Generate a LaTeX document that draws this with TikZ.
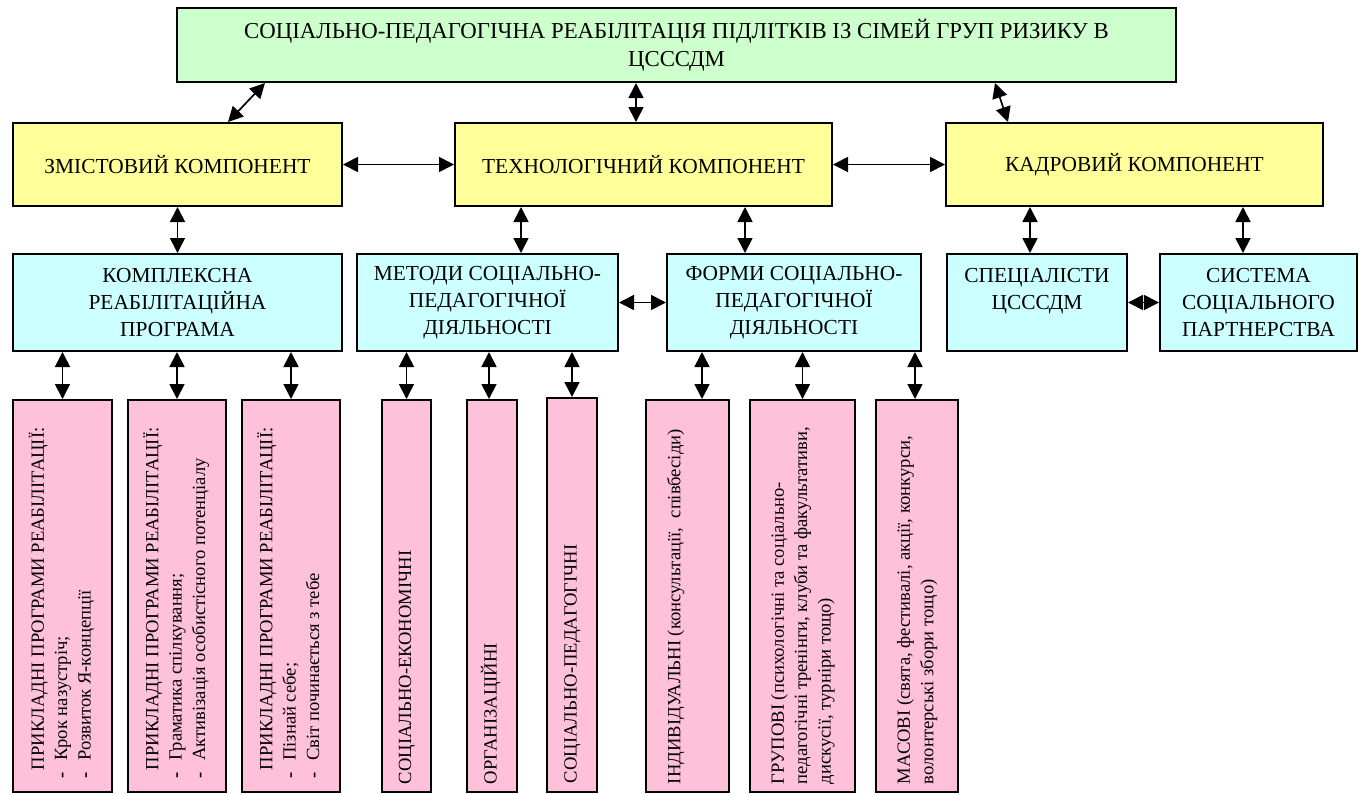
\documentclass[tikz,border=0pt]{standalone}
\usepackage{fontspec}
\setmainfont{Liberation Serif}
\usepackage{graphicx}
\usetikzlibrary{arrows.meta}

\definecolor{boxgreen}{RGB}{204,255,204}
\definecolor{boxyellow}{RGB}{255,255,153}
\definecolor{boxcyan}{RGB}{204,255,255}
\definecolor{boxpink}{RGB}{255,192,218}

% upright text in the narrow boxes
\newcommand\vtext[1]{\rotatebox{90}{\makebox[188pt][l]{\begin{tabular}{@{}l@{}}#1\end{tabular}}}}
\newcommand\itm{\hspace*{3pt}\textbf{-}\hspace*{5.5pt}}

\begin{document}
\begin{tikzpicture}[x=0.5pt,y=-0.5pt,
    box/.style={draw,line width=1pt,inner sep=0pt,align=center,
      font={\fontsize{10.7}{13.5}\selectfont}},
    topbox/.style={box,fill=boxgreen,minimum width=499.5pt,minimum height=37pt,
      font={\fontsize{11.4}{13.8}\selectfont}},
    compbox/.style={box,fill=boxyellow,minimum width=188.5pt,minimum height=41.5pt},
    midbox/.style={box,fill=boxcyan,minimum height=48.5pt},
    leafbox/.style={draw,line width=1pt,inner sep=0pt,fill=boxpink,minimum height=196pt,
      font={\fontsize{9.3}{11.7}\selectfont}},
    link/.style={line width=0.85pt,<->,>={Triangle[length=7.5pt,width=7.5pt]}}]
  \useasboundingbox (0,0) rectangle (1366,794);
  \draw
    (676.5,45) node[topbox] (top) {СОЦІАЛЬНО-ПЕДАГОГІЧНА РЕАБІЛІТАЦІЯ ПІДЛІТКІВ ІЗ СІМЕЙ ГРУП РИЗИКУ В\\ЦСССДМ}
    (177.5,164.5) node[compbox,minimum width=164.5pt] (zm) {ЗМІСТОВИЙ КОМПОНЕНТ}
    (643.5,164.5) node[compbox] (tech) {ТЕХНОЛОГІЧНИЙ КОМПОНЕНТ}
    (1134.5,164.5) node[compbox] (kadr) {КАДРОВИЙ КОМПОНЕНТ}
    (177.5,302.5) node[midbox,minimum width=164.5pt] (krp) {КОМПЛЕКСНА\\РЕАБІЛІТАЦІЙНА\\ПРОГРАМА}
    (487.5,302.5) node[midbox,minimum width=130.5pt] (meth) {МЕТОДИ СОЦІАЛЬНО-\\ПЕДАГОГІЧНОЇ\\ДІЯЛЬНОСТІ}
    (794,302.5) node[midbox,minimum width=127pt] (form) {ФОРМИ СОЦІАЛЬНО-\\ПЕДАГОГІЧНОЇ\\ДІЯЛЬНОСТІ}
    (1037,302.5) node[midbox,minimum width=90pt] (spec) {СПЕЦІАЛІСТИ\\ЦСССДМ\\\mbox{}}
    (1258.5,302.5) node[midbox,minimum width=98.5pt] (sys) {СИСТЕМА\\СОЦІАЛЬНОГО\\ПАРТНЕРСТВА};
  \draw
    (62.5,596) node[leafbox,minimum width=49.5pt] (p1) {\vtext{\hspace*{7pt}ПРИКЛАДНІ ПРОГРАМИ РЕАБІЛІТАЦІЇ:\\\itm Крок назустріч;\\\itm Розвиток Я-концепції}}
    (177,596) node[leafbox,minimum width=49pt] (p2) {\vtext{\hspace*{7pt}ПРИКЛАДНІ ПРОГРАМИ РЕАБІЛІТАЦІЇ:\\\itm Граматика спілкування;\\\itm Активізація особистісного потенціалу}}
    (291,596) node[leafbox,minimum width=49pt] (p3) {\vtext{\hspace*{7pt}ПРИКЛАДНІ ПРОГРАМИ РЕАБІЛІТАЦІЇ:\\\itm Пізнай себе;\\\itm Світ починається з тебе}}
    (406.5,596) node[leafbox,minimum width=24.5pt] (p4) {\vtext{СОЦІАЛЬНО-ЕКОНОМІЧНІ}}
    (492,596) node[leafbox,minimum width=25pt] (p5) {\vtext{ОРГАНІЗАЦІЙНІ}}
    (572,595) node[leafbox,minimum width=25pt,minimum height=197pt] (p6) {\vtext{СОЦІАЛЬНО-ПЕДАГОГІЧНІ}}
    (687.5,596) node[leafbox,minimum width=41.5pt] (p7) {\vtext{ІНДИВІДУАЛЬНІ (консультації,\ \ співбесіди)\\\mbox{}}}
    (802.5,596) node[leafbox,minimum width=52.5pt] (p8) {\vtext{ГРУПОВІ (психологічні та соціально-\\педагогічні тренінги, клуби та факультативи,\\дискусії, турніри тощо)}}
    (917,596) node[leafbox,minimum width=41pt] (p9) {\vtext{МАСОВІ (свята, фестивалі, акції, конкурси,\\волонтерські збори тощо)}};
  \begin{scope}[link]
    \draw (top.south -| 265,0) to (zm.north -| 228,0);
    \draw (top.south -| 636,0) to (tech.north -| 636,0);
    \draw (top.south -| 995,0) to (kadr.north -| 1008,0);
    \draw (zm.east) to (tech.west);
    \draw (tech.east) to (kadr.west);
    \draw (zm.south) to (krp.north);
    \draw (tech.south -| 521,0) to (meth.north -| 521,0);
    \draw (tech.south -| 745,0) to (form.north -| 745,0);
    \draw (kadr.south -| 1030,0) to (spec.north -| 1030,0);
    \draw (kadr.south -| 1243,0) to (sys.north -| 1243,0);
    \draw (meth.east) to (form.west);
    \draw (spec.east) to (sys.west);
    \draw (krp.south -| p1.north) to (p1.north);
    \draw (krp.south -| p2.north) to (p2.north);
    \draw (krp.south -| p3.north) to (p3.north);
    \draw (meth.south -| p4.north) to (p4.north);
    \draw (meth.south -| 489,0) to (p5.north -| 489,0);
    \draw (meth.south -| p6.north) to (p6.north);
    \draw (form.south -| 702,0) to (p7.north -| 702,0);
    \draw (form.south -| p8.north) to (p8.north);
    \draw (form.south -| 915,0) to (p9.north -| 915,0);
  \end{scope}
\end{tikzpicture}
\end{document}
